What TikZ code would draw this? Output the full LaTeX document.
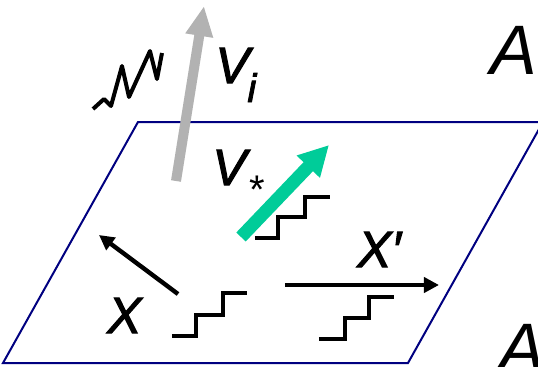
\documentclass[tikz,border=0pt]{standalone}
\usepackage{fontspec}
\setmainfont{Liberation Sans}
\newfontfamily\lblfont[FakeBold=2]{Liberation Sans}
\usetikzlibrary{arrows.meta,positioning}
\definecolor{planeblue}{RGB}{0,0,128}
\definecolor{vgreen}{RGB}{0,204,153}
\definecolor{vgray}{RGB}{178,178,178}
\tikzset{
  lbl/.style={inner sep=0pt, anchor=base west, font=\lblfont\fontsize{25.5}{26}\selectfont\itshape},
  biglbl/.style={inner sep=0pt, anchor=base west, font=\fontsize{35}{35}\selectfont\itshape},
  stair/.style={line width=2pt},
  blackarrow/.style={line width=2.2pt, -{Triangle[width=7.5pt,length=7.5pt]}},
}

\begin{document}
\begin{tikzpicture}[x=0.5pt,y=-0.5pt]
              \useasboundingbox (0,0) rectangle (538,366);
              % Define plane corners
              \coordinate (P1) at (138,122);
              \coordinate (P2) at (543,122);
              \coordinate (P3) at (408,363);
              \coordinate (P4) at (3,363);

              % Define arrow ends
              \coordinate (gs) at (176,181);
              \coordinate (gt) at (204,6);
              \coordinate (ns) at (241,237);
              \coordinate (nt) at (329,145);
              \coordinate (xs) at (178,294);
              \coordinate (xt) at (99,235);
              \coordinate (ys) at (285,285);
              \coordinate (yt) at (439,285);

              % Draw plane
              \draw[planeblue, line width=1pt] (P1) -- (P2) -- (P3) -- (P4) -- cycle;

              % Labels
              \node[lbl] (Vi) at (215,83) {V\kern-1pt\raisebox{-9.5pt}{\fontsize{20}{20}\selectfont i}};
              \node[lbl] (Vs) at (212,185) {V\kern1.5pt\raisebox{-9pt}{\normalfont\fontsize{20}{20}\selectfont *}};
              \node[lbl] (X) at (107,333) {X};
              \node[lbl] (Xp) at (357,267) {X′};
              \node[biglbl] (A1) at (490,74) {A};
              \node[biglbl] (A2) at (498,372) {A};

              % Draw arrows
              \draw[vgray, line width=5pt, -{Triangle[width=13pt,length=15pt]}] (gs) -- (gt);
              \draw[vgreen, line width=6.5pt, -{Triangle[width=15pt,length=15pt]}] (ns) -- (nt);
              \draw[blackarrow] (xs) -- (xt);
              \draw[blackarrow] (ys) -- (yt);

              % Draw zigzag
              \draw[line width=2pt, line join=round] (93,109) -- (104,99) -- (111,106) -- (122,66)
                -- (129,97) -- (150,51) -- (157,79) -- (162,53);

              % Draw stairs
              \draw[stair] (255,238) -- (278,238) -- (278,217) -- (305,217) -- (305,197) -- (330,197);
              \draw[stair] (172,336) -- (196,336) -- (196,315) -- (223,315) -- (223,293) -- (247,293);
              \draw[stair] (319,339) -- (345,339) -- (345,318) -- (369,318) -- (369,297) -- (394,297);
            \end{tikzpicture}
\end{document}
